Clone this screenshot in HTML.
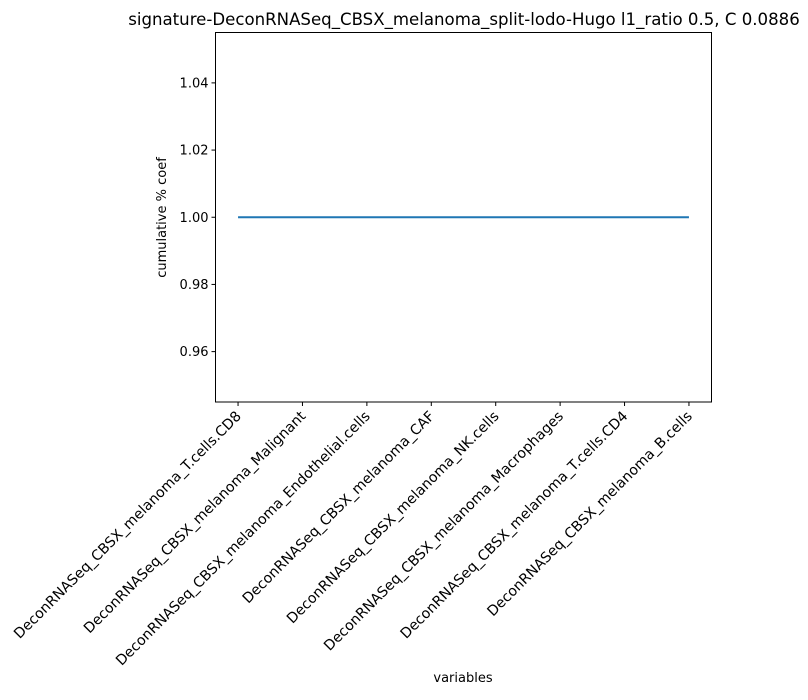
<!DOCTYPE html>
<html><head><meta charset="utf-8"><style>
body{margin:0;background:#fff;}
svg{font-family:"DejaVu Sans","Liberation Sans",sans-serif;}
</style></head><body>
<svg id="chart" width="808" height="695">
<text x="464" y="25" font-size="16.6" text-anchor="middle">signature-DeconRNASeq_CBSX_melanoma_split-lodo-Hugo l1_ratio 0.5, C 0.0886</text>
<g id="yticks"></g><g id="xticks"></g>
<path id="line" fill="none" stroke="#1f77b4" stroke-width="2"></path>
<rect x="215.5" y="32.5" width="496" height="369.5" fill="none" stroke="#000" stroke-width="1"></rect>
<text x="0" y="0" font-size="13" text-anchor="middle" transform="translate(166,217.5) rotate(-90)">cumulative % coef</text>
<text x="463" y="682" font-size="13" text-anchor="middle">variables</text>
</svg>
<script>
const categories=["DeconRNASeq_CBSX_melanoma_T.cells.CD8","DeconRNASeq_CBSX_melanoma_Malignant","DeconRNASeq_CBSX_melanoma_Endothelial.cells","DeconRNASeq_CBSX_melanoma_CAF","DeconRNASeq_CBSX_melanoma_NK.cells","DeconRNASeq_CBSX_melanoma_Macrophages","DeconRNASeq_CBSX_melanoma_T.cells.CD4","DeconRNASeq_CBSX_melanoma_B.cells"];
const values=[1,1,1,1,1,1,1,1];
const yTicks=[0.96,0.98,1.00,1.02,1.04];
const yTickLabels=["0.96","0.98","1.00","1.02","1.04"];
const NS="http://www.w3.org/2000/svg";
const L=215.5,R=711.5,T=32.5,B=402;
const xmin=-0.35,xmax=categories.length-1+0.35,ymin=0.945,ymax=1.055;
const xs=i=>L+(i-xmin)/(xmax-xmin)*(R-L);
const ys=v=>B-(v-ymin)/(ymax-ymin)*(B-T);
const yg=document.getElementById('yticks'),xg=document.getElementById('xticks');
yTicks.forEach((v,i)=>{const y=ys(v);
 const l=document.createElementNS(NS,'line');l.setAttribute('x1',L-4);l.setAttribute('x2',L);l.setAttribute('y1',y);l.setAttribute('y2',y);l.setAttribute('stroke','#000');
 
 
 yg.appendChild(l);
 const t=document.createElementNS(NS,'text');t.setAttribute('x',L-7);t.setAttribute('y',y+4.5);t.setAttribute('font-size','13');t.setAttribute('text-anchor','end');t.textContent=yTickLabels[i];
 
 
 yg.appendChild(t);});
categories.forEach((c,i)=>{const x=xs(i);
 const l=document.createElementNS(NS,'line');l.setAttribute('x1',x);l.setAttribute('x2',x);l.setAttribute('y1',B);l.setAttribute('y2',B+4);l.setAttribute('stroke','#000');
 
 
 xg.appendChild(l);
 const t=document.createElementNS(NS,'text');t.setAttribute('font-size','14.2');t.setAttribute('text-anchor','end');
 t.setAttribute('transform','translate('+(x+4)+','+(B+15)+') rotate(-45)');t.textContent=c;
 
 
 xg.appendChild(t);});
document.getElementById('line').setAttribute('d',values.map((v,i)=>(i?'L':'M')+xs(i)+','+ys(v)).join(''));
</script>
</body></html>
